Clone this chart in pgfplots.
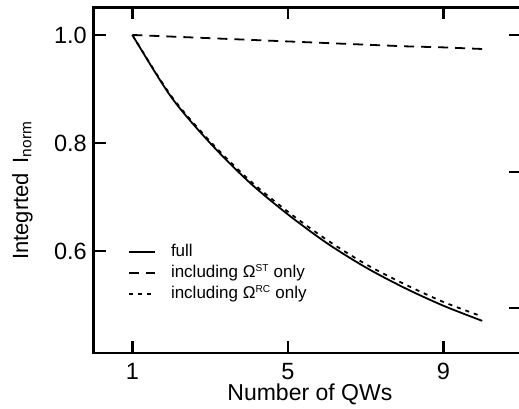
\documentclass[border=0pt]{standalone}
\usepackage{fontspec}
\setmainfont{Liberation Sans}
\usepackage{pgfplots}
\pgfplotsset{compat=1.18}

% integrated normalised intensity versus number of quantum wells
\pgfplotstableread{
N   full   st     rc
1   1.000  1.000  1.000
2   0.885  0.997  0.887
3   0.800  0.994  0.803
4   0.728  0.991  0.732
5   0.668  0.988  0.673
6   0.615  0.985  0.621
7   0.570  0.982  0.576
8   0.532  0.979  0.539
9   0.499  0.977  0.506
10  0.471  0.974  0.479
}\qwdata

\begin{document}
\begin{tikzpicture}
\pgfplotsset{
  qwframe/.style={
    at={(93.5pt,56pt)}, anchor=south west,
    scale only axis, width=427.6pt, height=345.5pt,
    xmin=0, xmax=11, ymin=0.4115, ymax=1.0508,
    tick align=inside,
    major tick length=12pt,
    tick style={line width=2.6pt, black},
    axis line style={line width=2.8pt},
    /pgf/number format/assume math mode=true,
  }
}
\begin{axis}[
  qwframe,
  xtick={1,5,9}, xtick pos=both,
  ytick={0.6,0.8,1.0}, ytick pos=left,
  yticklabels={0.6,0.8,1.0},
  ticklabel style={font=\fontsize{23.5}{27}\selectfont},
  xticklabel style={anchor=north, inner sep=0pt, yshift=-10pt},
  yticklabel style={anchor=east, inner sep=0pt, xshift=-6.5pt},
  xlabel={Number of QWs},
  xlabel style={font=\fontsize{23}{27}\selectfont, at={(axis description cs:0.506,0)}, anchor=base, inner sep=0pt, yshift=-48pt},
  ylabel={Integrted\ \,I\textsubscript{norm}},
  ylabel style={font=\fontsize{22}{26}\selectfont, at={(axis description cs:-0.1906,0.47)}, anchor=north, inner sep=0pt},
  legend style={draw=none, fill=none, at={(axis description cs:0.0807,0.3227)},
    anchor=north west, inner sep=0pt, column sep=15pt, row sep=0pt,
    font=\fontsize{17}{20}\selectfont,
    nodes={inner xsep=0pt, inner ysep=2pt, text height=13pt, text depth=4pt}},
  legend cell align=left,
  legend image code/.code={\draw[#1, line width=1.8pt] (0pt,0pt) -- (26pt,0pt);},
]
\addplot[black, line width=1.8pt, smooth] table[x=N, y=full] {\qwdata};
\addlegendentry{full}
\addplot[black, line width=1.8pt, dash pattern=on 10pt off 7pt] table[x=N, y=st] {\qwdata};
\addlegendentry{including Ω\textsuperscript{\scalebox{0.85}{ST}} only}
\addplot[black, line width=1.8pt, smooth, dash pattern=on 4pt off 5pt] table[x=N, y=rc] {\qwdata};
\addlegendentry{including Ω\textsuperscript{\scalebox{0.85}{RC}} only}
\end{axis}
% second scale on the right-hand side, ticks only
\begin{axis}[
  qwframe,
  axis x line=none,
  axis y line*=right,
  ytick={0.4948,0.7467,1.0},
  yticklabels={},
]
\end{axis}
\pgfresetboundingbox
\path (0pt,0pt) rectangle (519pt,409pt);
\end{tikzpicture}
\end{document}
